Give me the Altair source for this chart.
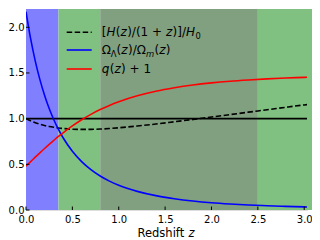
import altair as alt
import pandas as pd

# ---------------- data ----------------
z = [0.0, 0.05, 0.1, 0.15, 0.2, 0.25, 0.3, 0.35, 0.4, 0.5, 0.6, 0.7, 0.8, 0.9,
     1.0, 1.2, 1.4, 1.6, 1.8, 2.0, 2.2, 2.4, 2.6, 2.8, 3.0, 3.05]
h_ratio = [1.000, 0.976, 0.956, 0.939, 0.925, 0.914, 0.905, 0.897, 0.892, 0.884,
           0.882, 0.883, 0.886, 0.892, 0.900, 0.919, 0.941, 0.966, 0.991, 1.018,
           1.044, 1.071, 1.097, 1.124, 1.150, 1.156]
omega_ratio = [2.170, 1.875, 1.630, 1.427, 1.256, 1.111, 0.988, 0.882, 0.791, 0.643,
               0.530, 0.442, 0.372, 0.316, 0.271, 0.204, 0.157, 0.124, 0.099, 0.080,
               0.066, 0.055, 0.047, 0.040, 0.034, 0.033]
q_plus_1 = [0.480, 0.529, 0.578, 0.626, 0.673, 0.718, 0.762, 0.805, 0.845, 0.920,
            0.988, 1.047, 1.099, 1.145, 1.185, 1.250, 1.300, 1.338, 1.368, 1.391,
            1.409, 1.423, 1.435, 1.444, 1.452, 1.454]
hline = [1.0]

region_start = [0.0, 0.35, 0.8, 2.5]
region_end = [0.35, 0.8, 2.5, 3.1]
region_kind = ["blue", "green", "grey", "green2"]

x_ticks = [0.0, 0.5, 1.0, 1.5, 2.0, 2.5, 3.0]
y_ticks = [0.0, 0.5, 1.0, 1.5, 2.0]

# ---------------- layout ----------------
W, H = 281, 201
FONT = "DejaVu Sans"
xs = alt.Scale(domain=[0, 3.03], nice=False, zero=False)
ys = alt.Scale(domain=[0, 2.2], nice=False, zero=False)

df_reg = pd.DataFrame({"start": region_start, "end": region_end, "kind": region_kind})
df_lines = pd.DataFrame({"z": z, "h": h_ratio, "om": omega_ratio, "q": q_plus_1})
df_h = pd.DataFrame({"v": hline})
df_xt = pd.DataFrame({"t": x_ticks})
df_yt = pd.DataFrame({"t": y_ticks})

xaxis = alt.Axis(values=x_ticks, format=".1f", ticks=False, domain=False, grid=False,
                 labelFontSize=10, labelPadding=4, labelColor="black", title=None,
                 labelFont=FONT, labelFlush=False, labelOverlap=False)
yaxis = alt.Axis(values=y_ticks, format=".1f", ticks=False, domain=False, grid=False,
                 labelFontSize=10, labelPadding=2, labelColor="black", title=None,
                 labelFont=FONT, labelFlush=False, labelOverlap=False)

regions = alt.Chart(df_reg).mark_rect(opacity=1).encode(
    x=alt.X("start:Q", scale=xs, axis=xaxis),
    x2="end:Q",
    y=alt.value(0),
    y2=alt.value(H),
    color=alt.Color("kind:N", legend=None,
                    scale=alt.Scale(domain=["blue", "green", "grey", "green2"],
                                    range=["#8080ff", "#80c080", "#80a080", "#80c080"])),
)

hl = alt.Chart(df_h).mark_rule(color="black", strokeWidth=1.6).encode(
    y=alt.Y("v:Q", scale=ys, axis=yaxis)
)

base = alt.Chart(df_lines)
line_h = base.mark_line(color="black", strokeWidth=1.6, strokeDash=[5.5, 2.5], clip=True,
                        interpolate="monotone").encode(
    x=alt.X("z:Q", scale=xs), y=alt.Y("h:Q", scale=ys))
line_om = base.mark_line(color="#0000ff", strokeWidth=1.6, clip=True,
                         interpolate="monotone").encode(
    x=alt.X("z:Q", scale=xs), y=alt.Y("om:Q", scale=ys))
line_q = base.mark_line(color="#ff0000", strokeWidth=1.6, clip=True,
                        interpolate="monotone").encode(
    x=alt.X("z:Q", scale=xs), y=alt.Y("q:Q", scale=ys))

xt = alt.Chart(df_xt).mark_rule(color="black", strokeWidth=1).encode(
    x=alt.X("t:Q", scale=xs), y=alt.value(H - 3.5), y2=alt.value(H))
yt = alt.Chart(df_yt).mark_rule(color="black", strokeWidth=1).encode(
    y=alt.Y("t:Q", scale=ys), x=alt.value(0), x2=alt.value(3.5))

# ---------------- rich text helper (DejaVu Sans advance widths, em) ----------------
ADV = {"[": 0.39, "]": 0.39, "(": 0.39, ")": 0.39, "/": 0.337, "1": 0.636, "0": 0.636,
       " ": 0.318, "+": 0.838, "H": 0.752, "z": 0.525, "q": 0.635, "m": 0.974,
       "Ω": 0.764, "Λ": 0.684, "R": 0.695, "e": 0.615, "d": 0.635, "s": 0.521,
       "h": 0.634, "i": 0.278, "f": 0.352, "t": 0.392}


def rich(pieces, x0, baseline, size):
    layers = []
    x = x0
    for txt, style, sub in pieces:
        fs = size * (0.7 if sub else 1.0)
        layers.append(
            alt.Chart(df_h).mark_text(
                align="left", baseline="alphabetic", font=FONT, fontSize=fs,
                fontStyle="italic" if style == "i" else "normal", color="black",
                dy=(3 if sub else 0),
            ).encode(x=alt.value(x), y=alt.value(baseline), text=alt.value(txt))
        )
        x += sum(ADV.get(c, 0.6) for c in txt) * fs + (0.4 if style == "i" else 0)
    return layers


LX0, LX1, TX = 40.7, 65.7, 75.7
rows = [23.3, 41.0, 60.0]
FS = 12

leg = []
leg.append(alt.Chart(df_h).mark_rule(color="black", strokeWidth=1.6, strokeDash=[5.5, 2.5]).encode(
    x=alt.value(LX0), x2=alt.value(LX1), y=alt.value(rows[0])))
leg.append(alt.Chart(df_h).mark_rule(color="#0000ff", strokeWidth=1.6).encode(
    x=alt.value(LX0), x2=alt.value(LX1), y=alt.value(rows[1])))
leg.append(alt.Chart(df_h).mark_rule(color="#ff0000", strokeWidth=1.6).encode(
    x=alt.value(LX0), x2=alt.value(LX1), y=alt.value(rows[2])))

leg += rich([("[", "n", False), ("H", "i", False), ("(", "n", False), ("z", "i", False),
             (")/(1 + ", "n", False), ("z", "i", False), (")]/", "n", False),
             ("H", "i", False), ("0", "n", True)], TX, rows[0] + 4, FS)
leg += rich([("Ω", "n", False), ("Λ", "n", True), ("(", "n", False), ("z", "i", False),
             (")/Ω", "n", False), ("m", "i", True), ("(", "n", False), ("z", "i", False),
             (")", "n", False)], TX, rows[1] + 4, FS)
leg += rich([("q", "i", False), ("(", "n", False), ("z", "i", False), (") + 1", "n", False)],
            TX, rows[2] + 4, FS)

title = rich([("Redshift ", "n", False), ("z", "i", False)], 111.5, 228, 11.5)

chart = alt.layer(regions, hl, line_h, line_om, line_q, xt, yt, *leg, *title).properties(
    width=W, height=H,
    autosize=alt.AutoSizeParams(type="none"),
    padding={"left": 18, "top": 1, "right": 5, "bottom": 32},
).configure_view(stroke="black", strokeWidth=1.2).configure(font=FONT)

chart.save("out.html", embed_options={"renderer": "svg", "actions": False})
